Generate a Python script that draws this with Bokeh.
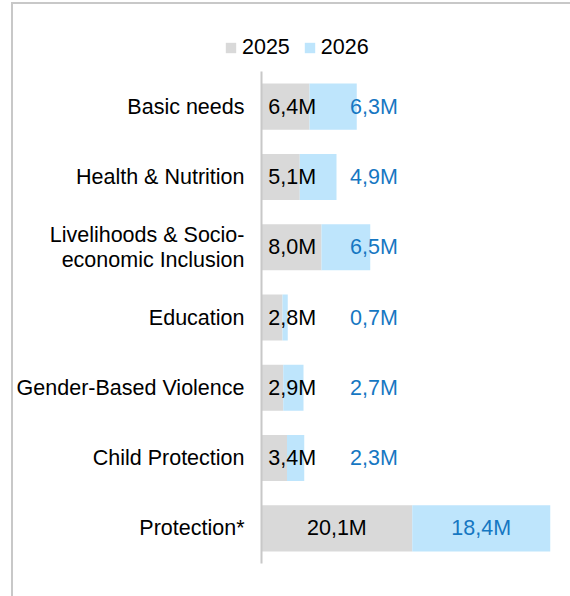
from bokeh.plotting import figure
from bokeh.layouts import column
from bokeh.models import ColumnDataSource, Legend, LegendItem, FactorRange, Range1d
from bokeh.embed import file_html
from bokeh.resources import INLINE
from bokeh.core.properties import value

# ---- data ----
categories = [
    "Basic needs",
    "Health & Nutrition",
    "Livelihoods & Socio-\neconomic Inclusion",
    "Education",
    "Gender-Based Violence",
    "Child Protection",
    "Protection*",
]
values_2025 = [6.4, 5.1, 8.0, 2.8, 2.9, 3.4, 20.1]
values_2026 = [6.3, 4.9, 6.5, 0.7, 2.7, 2.3, 18.4]
series = ["2025", "2026"]

# ---- styles ----
GREY = "#d9d9d9"
BLUE = "#bee5fc"
BLUE_TXT = "#1677c2"
FONT = "Liberation Sans"
FS = "21.5px"
colors = [GREY, BLUE]


def fmt(v):
    return f"{v:.1f}".replace(".", ",") + "M"


# label placement rules (derived from the values)
MIN_25 = 4.1      # first label kept clear of the axis
GAP = 10.9        # 2026 label follows the 2025 label
lab25_x = [max(a / 2, MIN_25) for a in values_2025]
lab26_x = [max(a + b / 2, l + GAP) for a, b, l in zip(values_2025, values_2026, lab25_x)]

src = ColumnDataSource(dict(
    cat=categories,
    v2025=values_2025,
    v2026=values_2026,
    l25=[fmt(v) for v in values_2025],
    l26=[fmt(v) for v in values_2026],
    x25=lab25_x,
    x26=lab26_x,
))

# ---- main chart ----
p = figure(
    width=557, height=525,
    y_range=FactorRange(factors=list(reversed(categories)), range_padding=0),
    x_range=(0, 40),
    output_backend="svg", toolbar_location=None,
    min_border_left=246, min_border_right=9, min_border_top=0, min_border_bottom=33,
)
p.frame_align = False

rs = p.hbar_stack(["v2025", "v2026"], y="cat", height=0.655, color=colors,
                  line_color=None, source=src)

p.text(x="x25", y="cat", text="l25", source=src, text_align="center",
       text_baseline="middle", text_font=value(FONT), text_font_size=FS,
       text_color="#000000")
p.text(x="x26", y="cat", text="l26", source=src, text_align="center",
       text_baseline="middle", text_font=value(FONT), text_font_size=FS,
       text_color=BLUE_TXT)

p.xaxis.visible = False
p.xgrid.visible = False
p.ygrid.visible = False
p.outline_line_color = None

ax = p.yaxis[0]
ax.axis_line_color = "#c8c8c8"
ax.axis_line_width = 2
ax.major_tick_line_color = None
ax.minor_tick_line_color = None
ax.major_tick_out = 0
ax.major_tick_in = 0
ax.major_label_standoff = 17
ax.major_label_text_font = FONT
ax.major_label_text_font_size = FS
ax.major_label_text_line_height = 1.05
ax.major_label_text_color = "#000000"

# ---- legend strip (same series; zero-height bars, only the legend shows) ----
lg = figure(
    width=557, height=67, x_range=Range1d(0, 40),
    y_range=FactorRange(factors=list(reversed(categories))),
    output_backend="svg", toolbar_location=None,
    min_border_left=211, min_border_right=0, min_border_top=31, min_border_bottom=0,
)
lg.frame_align = False
lg.xaxis.visible = False
lg.yaxis.visible = False
lg.xgrid.visible = False
lg.ygrid.visible = False
lg.outline_line_color = None
swatches = lg.hbar_stack(["v2025", "v2026"], y="cat", height=0, color=colors,
                         line_color=None, source=src)

legend = Legend(
    items=[LegendItem(label=s, renderers=[r]) for s, r in zip(series, swatches)],
    orientation="horizontal",
    location="top_left",
    glyph_width=13, glyph_height=13,
    label_standoff=5, spacing=13, label_height=24,
    padding=0, margin=0,
    border_line_color=None, background_fill_alpha=0,
    label_text_font=FONT, label_text_font_size=FS,
    label_text_color="#000000",
)
lg.add_layout(legend, "center")

layout = column(lg, p, spacing=0)
layout.styles = {
    "border-top": "2px solid #c8c8c8",
    "border-left": "2px solid #c8c8c8",
    "margin-left": "11px",
    "margin-top": "2px",
}

open("out.html", "w").write(file_html(layout, INLINE))
